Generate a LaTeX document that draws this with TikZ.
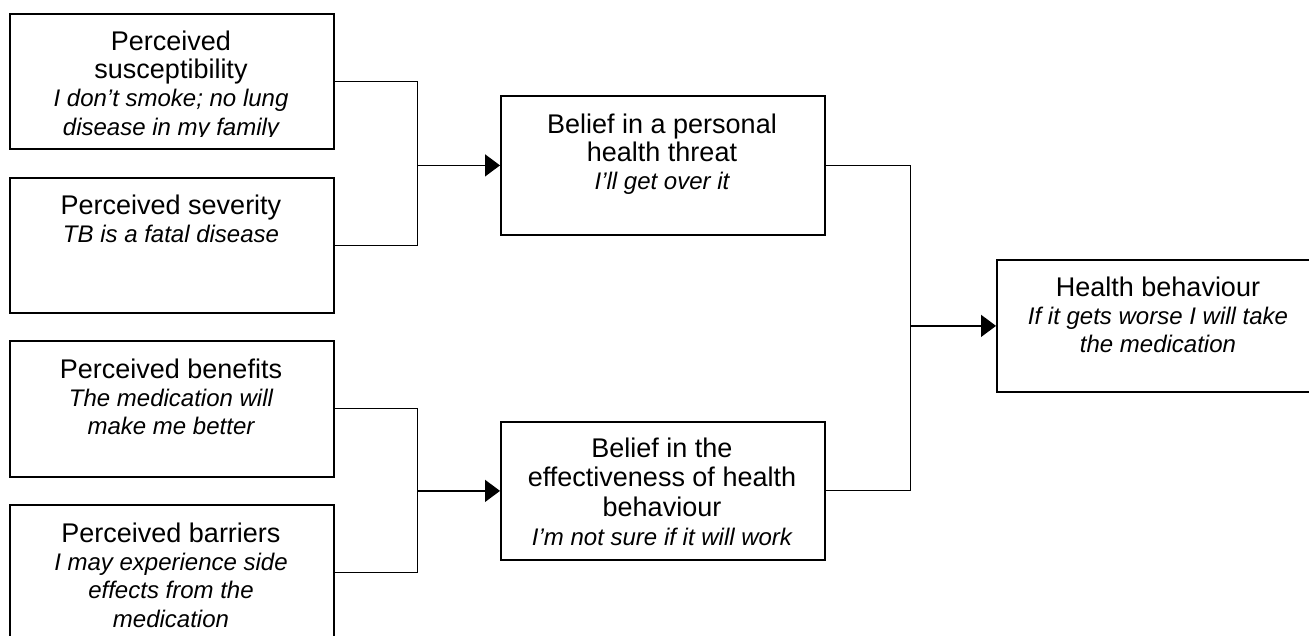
\documentclass[tikz,border=0pt]{standalone}
\usepackage{fontspec}
\setmainfont{Liberation Sans}
\usetikzlibrary{arrows.meta}
\newcommand\myit{\fontsize{24}{28.3}\selectfont\itshape}
\begin{document}
\begin{tikzpicture}[x=1pt,y=-1pt,
  box/.style={draw=black, line width=1.8pt, minimum width=324pt, inner sep=0pt, anchor=north west},
  txt/.style={anchor=north, inner sep=0pt, align=center, font=\fontsize{27}{28.3}\selectfont},
  link/.style={line width=1pt},
  arr/.style={line width=1.6pt, -{Triangle[length=15pt,width=22pt]}},
]
\path[use as bounding box, clip] (0,0) rectangle (1309,636);

% boxes
\node[box, minimum height=135pt] (b1) at (9,13) {};
\node[box, minimum height=135pt] (b2) at (9,177) {};
\node[box, minimum height=139pt] (b3) at (500,95) {};
\node[box, minimum height=136pt] (b4) at (9,340) {};
\node[box, minimum height=136pt] (b5) at (9,504) {};
\node[box, minimum height=138pt] (b6) at (500,421) {};
\node[box, minimum height=132pt] (b7) at (996,259) {};

% texts
\begin{scope}
\clip (9,13) rectangle (333,137);
\node[txt] (t1) at (171,30) {\rule{0pt}{20pt}Perceived\\susceptibility\\\myit I don’t smoke; no lung\\\myit disease in my family};
\end{scope}
\node[txt] (t2) at (171,194) {\rule{0pt}{20pt}Perceived severity\\\myit TB is a fatal disease};
\node[txt] (t3) at (662,113) {\rule{0pt}{20pt}Belief in a personal\\health threat\\\myit I’ll get over it};
\node[txt] (t4) at (171,358) {\rule{0pt}{20pt}Perceived benefits\\\myit The medication will\\\myit make me better};
\node[txt] (t5) at (171,522) {\rule{0pt}{20pt}Perceived barriers\\\myit I may experience side\\\myit effects from the\\\myit medication};
\begin{scope}
\clip (500,421) rectangle (824,547);
\node[txt, font=\fontsize{27}{29.5}\selectfont] (t6) at (662,437) {\rule{0pt}{20pt}Belief in the\\effectiveness of health\\behaviour\\\myit I’m not sure if it will work};
\end{scope}
\node[txt] (t7) at (1158,276) {\rule{0pt}{20pt}Health behaviour\\\myit If it gets worse I will take\\\myit the medication};

% junctions
\path (b3.west) ++(-83,0) coordinate (j1);
\path (b6.west) ++(-83,0) coordinate (j2);
\path (b7.west) ++(-86,0) coordinate (j3);

% connectors
\draw[link] (b1.east) -| (j1);
\draw[link] (b2.east) -| (j1);
\draw[arr] (j1) -- (b3.west);
\draw[link] (b4.east) -| (j2);
\draw[link] (b5.east) -| (j2);
\draw[arr] (j2) -- (b6.west);
\draw[link] (b3.east) -| (j3);
\draw[link] (b6.east) -| (j3);
\draw[arr] (j3) -- (b7.west);
\end{tikzpicture}
\end{document}
